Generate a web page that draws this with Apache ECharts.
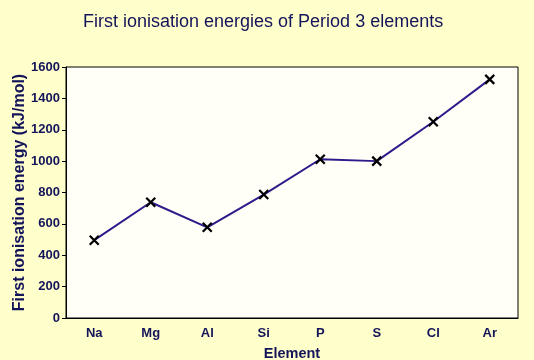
<!DOCTYPE html>
<html><head><meta charset="utf-8">
<script src="https://cdn.jsdelivr.net/npm/echarts@6/dist/echarts.min.js"></script>
<style>html,body{margin:0;padding:0;background:#FFFFCC;}#c{width:534px;height:360px;}</style>
</head><body><div id="c"></div>
<script>
const categories = ['Na','Mg','Al','Si','P','S','Cl','Ar'];
const energies = [496, 738, 578, 787, 1012, 1000, 1251, 1521];
const yTicks = [0, 200, 400, 600, 800, 1000, 1200, 1400, 1600];

const navy = '#14145a';
const chart = echarts.init(document.getElementById('c'));
chart.setOption({
  backgroundColor: '#FFFFCC',
  animation: false,
  title: {
    text: 'First ionisation energies of Period 3 elements',
    left: 78, top: 8,
    textStyle: { fontFamily: 'Liberation Sans', fontSize: 18, fontWeight: 'normal', color: navy }
  },
  grid: { left: 66, right: 16, top: 67, bottom: 42, outerBoundsMode: 'none', containLabel: false, show: true, backgroundColor: '#FFFFF8', borderColor: '#000', borderWidth: 1 },
  xAxis: {
    type: 'category', data: categories, boundaryGap: true,
    name: 'Element', nameLocation: 'middle', nameGap: 28, nameMoveOverlap: false,
    nameTextStyle: { fontFamily: 'Liberation Sans', fontSize: 14.5, fontWeight: 'bold', color: navy },
    axisLine: { lineStyle: { color: '#000', width: 1 } },
    axisTick: { show: false },
    axisLabel: { fontFamily: 'Liberation Sans', fontSize: 13, fontWeight: 'bold', color: navy, margin: 9 }
  },
  yAxis: {
    type: 'value', min: yTicks[0], max: yTicks[yTicks.length-1], interval: 200,
    name: 'First ionisation energy (kJ/mol)', nameLocation: 'middle', nameGap: 38, nameMoveOverlap: false,
    nameTextStyle: { fontFamily: 'Liberation Sans', fontSize: 16, fontWeight: 'bold', color: navy },
    axisLine: { show: true, lineStyle: { color: '#000', width: 1 } },
    axisTick: { show: true, length: 4, lineStyle: { color: '#000' } },
    splitLine: { show: false },
    axisLabel: { fontFamily: 'Liberation Sans', fontSize: 13, fontWeight: 'bold', color: navy, margin: 6, formatter: v => String(v) }
  },
  series: [{
    type: 'line', data: energies,
    lineStyle: { color: '#2e1a8a', width: 2 },
    symbol: 'path://M0,0 L10,10 M10,0 L0,10',
    symbolSize: 9,
    itemStyle: { color: 'none', borderColor: '#000', borderWidth: 2.2 }
  }]
});
</script></body></html>
